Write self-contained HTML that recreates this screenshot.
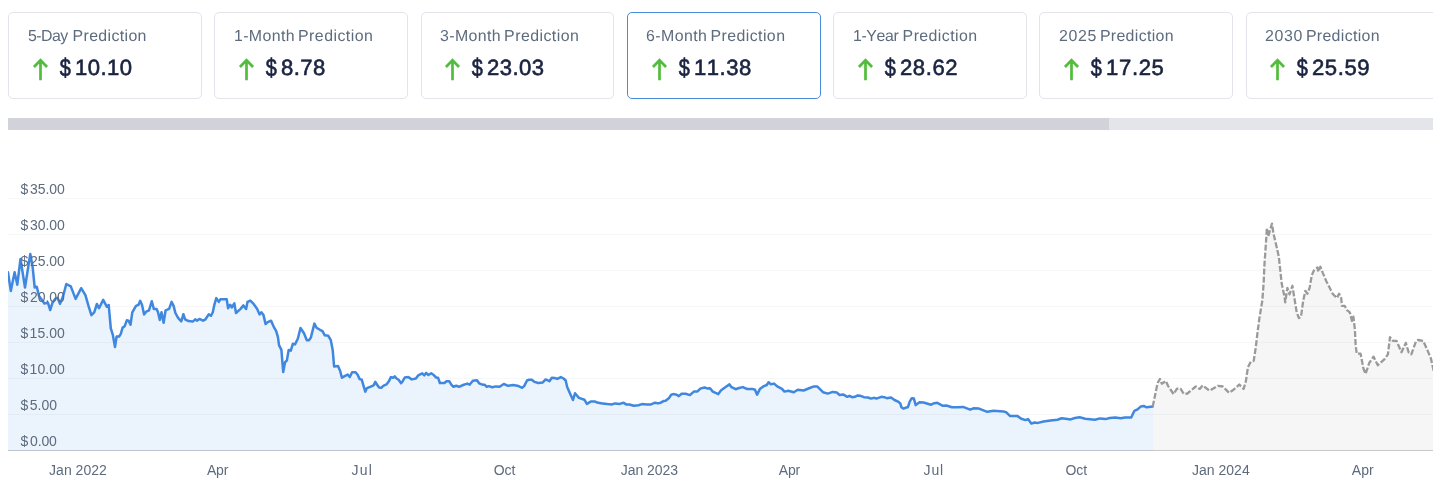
<!DOCTYPE html><html><head><meta charset="utf-8"><title>Price Prediction</title><style>
html,body{margin:0;padding:0;background:#fff;}
body{width:1442px;height:490px;overflow:hidden;position:relative;font-family:"Liberation Sans",sans-serif;}
.cards{position:absolute;left:0;top:0;width:1433px;height:110px;overflow:hidden;}
.card{position:absolute;top:12px;width:193.8px;height:87px;box-sizing:border-box;border:1px solid #e3e4eb;border-radius:5px;background:#fff;}
.card.sel{border-color:#4a8cdc;}
.lab{position:absolute;top:13.399999999999999px;font-size:15.9px;line-height:19px;color:#5d6b7e;white-space:nowrap;font-kerning:none;text-rendering:geometricPrecision;transform:translateY(0.75px) scale(1.0002);transform-origin:0 0;}
.lab span{position:absolute;left:0;top:0;}
.arr{position:absolute;top:43px;width:18px;height:26px;}
.price{position:absolute;top:41.0px;font-size:22.1px;line-height:28px;color:#1a2340;-webkit-text-stroke:0.6px #1a2340;white-space:nowrap;font-kerning:none;text-rendering:geometricPrecision;}
.price span{display:inline-block;transform:translateY(0.45px) scale(1.0002);}
.price i{font-style:normal;letter-spacing:0;display:inline-block;}
.price i b{font-weight:normal;display:inline-block;transform:translate(0.2px,0px) scale(0.9,1.12);}
.track{position:absolute;left:8px;top:118px;width:1425px;height:12px;background:#e4e5ea;}
.thumb{position:absolute;left:0;top:0;width:1101px;height:12px;background:#d2d3da;}
svg.chart{position:absolute;left:0;top:0;}
svg.chart text{font-family:"Liberation Sans",sans-serif;font-size:14px;fill:#5d6b7e;font-kerning:none;}
</style></head><body>
<div class="cards">
<div class="card" style="left:8.00px">
<div class="lab" style="left:18.98px"><span style="letter-spacing:-0.559px">5-Day</span> <span style="left:44.57px;letter-spacing:0.356px">Prediction</span></div>
<svg class="arr" style="left:22.00px" viewBox="0 0 18 26"><path d="M9.5 24.2V3.8M2.95 11L9.5 4.3l6.55 6.7" fill="none" stroke="#52bd3c" stroke-width="2.7" stroke-linecap="butt" stroke-linejoin="miter"/></svg>
<div class="price" style="left:50.39px;letter-spacing:0.460px"><i style="width:15.32px"><b>$</b></i><span>10.10</span></div></div>
<div class="card" style="left:214.27px">
<div class="lab" style="left:18.41px"><span style="letter-spacing:0.369px">1-Month</span> <span style="left:64.06px;letter-spacing:0.446px">Prediction</span></div>
<svg class="arr" style="left:21.73px" viewBox="0 0 18 26"><path d="M9.5 24.2V3.8M2.95 11L9.5 4.3l6.55 6.7" fill="none" stroke="#52bd3c" stroke-width="2.7" stroke-linecap="butt" stroke-linejoin="miter"/></svg>
<div class="price" style="left:50.12px;letter-spacing:0.455px"><i style="width:15.91px"><b>$</b></i><span>8.78</span></div></div>
<div class="card" style="left:420.54px">
<div class="lab" style="left:18.07px"><span style="letter-spacing:0.380px">3-Month</span> <span style="left:64.12px;letter-spacing:0.446px">Prediction</span></div>
<svg class="arr" style="left:21.46px" viewBox="0 0 18 26"><path d="M9.5 24.2V3.8M2.95 11L9.5 4.3l6.55 6.7" fill="none" stroke="#52bd3c" stroke-width="2.7" stroke-linecap="butt" stroke-linejoin="miter"/></svg>
<div class="price" style="left:49.85px;letter-spacing:0.467px"><i style="width:15.80px"><b>$</b></i><span>23.03</span></div></div>
<div class="card sel" style="left:626.81px">
<div class="lab" style="left:18.44px"><span style="letter-spacing:0.440px">6-Month</span> <span style="left:64.48px;letter-spacing:0.423px">Prediction</span></div>
<svg class="arr" style="left:22.19px" viewBox="0 0 18 26"><path d="M9.5 24.2V3.8M2.95 11L9.5 4.3l6.55 6.7" fill="none" stroke="#52bd3c" stroke-width="2.7" stroke-linecap="butt" stroke-linejoin="miter"/></svg>
<div class="price" style="left:50.58px;letter-spacing:0.476px"><i style="width:15.32px"><b>$</b></i><span>11.38</span></div></div>
<div class="card" style="left:833.08px">
<div class="lab" style="left:18.50px"><span style="letter-spacing:-0.394px">1-Year</span> <span style="left:49.61px;letter-spacing:0.418px">Prediction</span></div>
<svg class="arr" style="left:21.92px" viewBox="0 0 18 26"><path d="M9.5 24.2V3.8M2.95 11L9.5 4.3l6.55 6.7" fill="none" stroke="#52bd3c" stroke-width="2.7" stroke-linecap="butt" stroke-linejoin="miter"/></svg>
<div class="price" style="left:50.31px;letter-spacing:0.564px"><i style="width:15.80px"><b>$</b></i><span>28.62</span></div></div>
<div class="card" style="left:1039.35px">
<div class="lab" style="left:18.25px"><span style="letter-spacing:0.661px">2025</span> <span style="left:40.88px;letter-spacing:0.329px">Prediction</span></div>
<svg class="arr" style="left:21.65px" viewBox="0 0 18 26"><path d="M9.5 24.2V3.8M2.95 11L9.5 4.3l6.55 6.7" fill="none" stroke="#52bd3c" stroke-width="2.7" stroke-linecap="butt" stroke-linejoin="miter"/></svg>
<div class="price" style="left:50.04px;letter-spacing:0.652px"><i style="width:15.32px"><b>$</b></i><span>17.25</span></div></div>
<div class="card" style="left:1245.62px">
<div class="lab" style="left:17.98px"><span style="letter-spacing:0.675px">2030</span> <span style="left:40.88px;letter-spacing:0.329px">Prediction</span></div>
<svg class="arr" style="left:21.38px" viewBox="0 0 18 26"><path d="M9.5 24.2V3.8M2.95 11L9.5 4.3l6.55 6.7" fill="none" stroke="#52bd3c" stroke-width="2.7" stroke-linecap="butt" stroke-linejoin="miter"/></svg>
<div class="price" style="left:49.77px;letter-spacing:0.561px"><i style="width:15.80px"><b>$</b></i><span>25.59</span></div></div>
</div>
<div class="track"><div class="thumb"></div></div>
<svg class="chart" width="1442" height="490" viewBox="0 0 1442 490">
<defs><clipPath id="cp"><rect x="8" y="150" width="1425" height="301"/></clipPath></defs>
<g clip-path="url(#cp)">
<rect x="8" y="198" width="1425" height="1" fill="#0a1430" fill-opacity="0.034"/>
<rect x="8" y="234" width="1425" height="1" fill="#0a1430" fill-opacity="0.034"/>
<rect x="8" y="270" width="1425" height="1" fill="#0a1430" fill-opacity="0.034"/>
<rect x="8" y="306" width="1425" height="1" fill="#0a1430" fill-opacity="0.034"/>
<rect x="8" y="342" width="1425" height="1" fill="#0a1430" fill-opacity="0.034"/>
<rect x="8" y="378" width="1425" height="1" fill="#0a1430" fill-opacity="0.034"/>
<rect x="8" y="414" width="1425" height="1" fill="#0a1430" fill-opacity="0.034"/>
<path d="M8.0,272.2 L10.8,290.9 L14.6,272.2 L17.3,284.7 L20.5,259.0 L25.0,287.5 L30.3,253.9 L32.6,266.7 L34.7,287.5 L36.8,286.8 L38.9,295.8 L44.4,303.4 L47.9,302.7 L50.2,310.0 L52.5,302.7 L55.5,298.6 L57.6,297.9 L60.0,303.9 L63.2,295.8 L66.3,284.0 L70.8,286.4 L75.6,298.9 L81.2,288.2 L85.4,295.1 L88.8,306.9 L91.4,315.1 L94.2,312.3 L96.9,304.0 L99.0,308.2 L103.2,299.9 L106.9,306.8 L108.7,305.0 L110.8,328.3 L112.9,335.2 L115.0,347.0 L116.6,336.6 L119.1,336.6 L120.8,333.9 L122.6,327.6 L124.7,326.2 L126.8,320.3 L128.6,320.7 L130.5,324.8 L132.3,312.3 L135.8,306.1 L138.6,304.7 L140.2,300.8 L142.0,304.7 L144.1,314.4 L146.2,311.7 L149.0,310.3 L151.8,301.2 L153.8,308.9 L156.6,308.9 L158.0,312.3 L159.8,320.0 L161.5,312.3 L163.6,322.8 L165.6,310.3 L169.1,308.9 L171.6,301.9 L173.7,306.1 L175.4,313.0 L178.1,317.9 L181.3,321.4 L183.4,314.2 L185.1,319.3 L188.5,321.1 L192.7,321.6 L195.5,319.3 L196.9,320.7 L199.4,318.9 L203.1,320.7 L205.5,319.3 L208.7,314.4 L211.0,315.8 L212.8,312.3 L214.2,305.4 L216.3,298.1 L218.8,301.9 L220.5,299.2 L226.7,299.2 L228.1,308.2 L230.2,304.7 L231.8,307.5 L234.3,303.3 L236.0,313.0 L240.6,308.9 L243.4,305.4 L246.1,308.9 L247.5,301.9 L250.3,300.6 L253.1,303.3 L257.2,308.9 L259.6,314.4 L261.4,312.3 L263.5,315.1 L265.6,324.1 L267.7,322.1 L271.1,320.7 L273.5,326.3 L276.2,331.2 L278.0,337.4 L279.0,345.1 L281.4,349.9 L283.2,372.1 L285.0,362.4 L286.9,360.3 L288.7,349.9 L290.8,350.6 L292.9,343.7 L295.0,344.4 L297.8,338.8 L300.5,328.0 L304.0,333.3 L306.8,340.2 L308.9,340.2 L310.9,337.4 L314.4,323.6 L316.5,327.7 L320.0,329.8 L322.5,331.2 L324.8,335.3 L328.3,335.8 L330.8,340.2 L332.7,349.9 L334.1,366.6 L338.0,365.9 L340.1,370.7 L341.9,377.7 L345.6,375.6 L347.7,374.6 L349.8,377.0 L352.1,372.2 L355.6,372.2 L357.6,374.7 L359.7,379.1 L361.8,379.8 L363.6,386.1 L365.3,391.6 L366.9,388.2 L370.1,386.8 L373.6,385.4 L375.3,381.9 L377.1,384.7 L379.1,387.5 L381.2,387.8 L383.3,385.8 L386.4,384.4 L388.9,381.2 L390.9,377.1 L393.0,377.8 L394.7,376.4 L396.5,378.5 L398.6,379.8 L401.1,383.3 L402.7,381.2 L404.8,377.5 L408.3,377.1 L411.8,379.4 L415.9,378.5 L418.3,375.3 L422.2,373.3 L424.3,375.3 L426.1,372.9 L428.4,375.0 L431.2,373.3 L433.3,374.7 L436.1,377.5 L438.1,377.8 L439.9,383.0 L444.4,383.0 L446.5,381.2 L449.2,381.2 L451.3,384.7 L453.4,386.8 L456.2,385.8 L459.0,386.8 L463.1,385.0 L467.3,383.6 L469.6,384.7 L472.8,380.8 L477.0,380.3 L479.1,383.3 L482.5,384.7 L484.6,384.7 L486.7,386.8 L488.8,386.1 L492.3,387.2 L495.7,386.4 L499.6,386.8 L503.8,384.0 L508.2,385.8 L513.1,385.0 L518.6,386.1 L522.1,387.8 L524.2,386.1 L527.0,380.5 L529.0,379.8 L531.8,379.8 L534.6,381.9 L538.1,383.0 L542.8,382.4 L545.6,379.4 L549.4,381.2 L551.8,377.8 L554.6,378.0 L557.3,378.9 L560.8,377.1 L563.6,378.5 L565.7,380.5 L567.1,386.8 L569.8,393.0 L573.0,400.0 L575.0,393.3 L578.9,397.9 L584.4,399.7 L586.9,403.9 L590.7,401.6 L594.8,401.4 L596.9,402.5 L602.5,403.4 L607.3,404.1 L612.2,404.4 L614.9,403.4 L619.8,403.9 L623.6,402.7 L626.1,404.4 L629.5,404.5 L633.7,405.8 L638.5,405.2 L642.0,404.1 L646.9,404.4 L651.0,404.4 L655.2,402.7 L658.0,403.4 L660.7,402.7 L663.5,401.1 L665.6,400.7 L669.1,397.9 L671.2,394.7 L673.2,394.1 L676.7,394.7 L678.8,396.1 L681.6,393.7 L685.7,393.7 L689.9,395.1 L694.1,391.4 L697.5,391.4 L700.3,388.6 L704.5,387.5 L707.9,388.6 L710.0,388.2 L712.8,391.6 L718.3,394.1 L721.1,390.2 L726.0,386.8 L729.5,384.4 L731.5,387.2 L735.6,389.2 L739.0,388.0 L742.8,387.1 L747.3,389.1 L752.2,388.9 L755.0,389.8 L757.1,394.7 L759.8,389.1 L763.3,386.4 L766.8,385.0 L768.6,382.2 L770.9,384.3 L774.1,383.6 L777.2,386.4 L782.0,388.9 L784.4,391.6 L788.3,390.8 L793.8,392.2 L797.7,389.8 L803.6,390.5 L808.4,388.5 L813.3,386.6 L817.4,386.6 L823.0,392.2 L827.8,393.6 L832.7,391.9 L836.9,392.6 L839.6,395.0 L843.1,394.4 L847.3,396.8 L849.4,395.8 L852.1,397.2 L854.9,396.8 L857.7,395.4 L860.5,395.8 L863.9,397.2 L868.1,397.5 L870.9,398.6 L874.3,397.8 L876.4,398.6 L881.3,396.8 L884.1,397.2 L886.8,398.2 L891.0,397.5 L894.5,400.0 L898.6,401.9 L900.4,403.7 L901.4,407.2 L903.5,408.6 L906.3,407.5 L907.9,407.2 L909.7,401.6 L911.8,398.2 L913.9,398.6 L915.7,405.1 L919.5,402.3 L923.5,402.5 L931.1,404.8 L933.2,403.5 L937.3,402.8 L942.9,405.8 L946.4,405.5 L951.9,407.2 L957.5,407.2 L963.0,406.9 L970.2,409.7 L973.4,408.3 L979.0,408.6 L987.3,411.8 L993.6,410.8 L1003.3,411.4 L1006.1,412.2 L1009.9,415.9 L1017.2,415.9 L1021.3,418.7 L1025.5,420.1 L1028.0,419.1 L1031.3,423.6 L1034.5,422.5 L1038.0,422.9 L1043.5,421.5 L1050.5,420.5 L1057.4,419.7 L1061.6,418.3 L1065.7,418.7 L1070.6,419.4 L1074.8,418.0 L1079.6,417.3 L1085.2,418.7 L1094.9,419.7 L1100.0,418.4 L1105.6,419.1 L1109.7,418.0 L1115.3,417.5 L1120.8,418.2 L1125.0,417.5 L1131.2,417.5 L1134.4,410.8 L1137.5,409.4 L1140.9,406.4 L1143.7,405.9 L1146.5,407.3 L1152.7,406.6 L1153,406.6 L1153,451 L8,451 Z" fill="#3f87df" fill-opacity="0.1"/>
<path d="M1153,406.6 L1152.7,406.6 L1157.6,383.0 L1160.0,378.9 L1161.8,383.7 L1165.9,381.0 L1168.0,385.8 L1173.6,394.1 L1177.0,388.6 L1180.5,388.6 L1184.0,394.1 L1187.4,393.5 L1195.8,386.5 L1199.7,388.9 L1202.7,385.5 L1209.6,390.7 L1218.0,385.8 L1222.8,386.5 L1229.1,392.8 L1233.2,390.0 L1239.3,384.5 L1243.6,388.9 L1245.8,381.7 L1247.9,367.3 L1250.8,361.6 L1253.7,360.9 L1255.8,347.2 L1257.3,334.3 L1259.4,318.1 L1262.3,300.8 L1263.7,282.2 L1264.4,265.2 L1265.9,243.7 L1266.9,227.9 L1268.3,236.5 L1270.2,229.4 L1272.0,223.6 L1273.5,233.7 L1275.9,243.7 L1278.8,256.6 L1280.2,269.5 L1281.7,283.6 L1284.5,296.5 L1285.2,302.3 L1287.4,287.9 L1289.5,294.4 L1292.4,285.8 L1294.6,299.4 L1296.7,312.3 L1298.9,318.1 L1301.0,316.6 L1303.2,300.8 L1305.3,290.8 L1307.5,293.7 L1309.6,287.9 L1311.8,275.3 L1314.0,270.3 L1317.5,267.4 L1318.3,271.7 L1320.4,266.7 L1322.6,272.4 L1326.2,281.0 L1328.3,285.0 L1332.6,293.7 L1336.9,298.0 L1339.1,293.7 L1341.2,298.0 L1341.9,305.9 L1344.8,305.9 L1347.0,310.2 L1349.8,312.3 L1352.0,320.9 L1353.4,316.6 L1354.9,329.5 L1355.6,344.4 L1356.7,353.7 L1360.6,353.7 L1363.5,368.8 L1365.6,373.8 L1369.2,363.0 L1373.5,356.6 L1377.8,365.2 L1384.3,359.4 L1387.9,354.4 L1390.0,337.2 L1392.9,340.8 L1396.5,340.8 L1401.5,352.3 L1405.8,342.9 L1408.7,352.3 L1411.3,354.4 L1415.9,341.5 L1418.0,340.0 L1423.1,340.8 L1427.4,350.1 L1431.0,358.7 L1434.0,372.5 L1434.0,451 L1153,451 Z" fill="#000" fill-opacity="0.036"/>
<path d="M8.0,272.2 L10.8,290.9 L14.6,272.2 L17.3,284.7 L20.5,259.0 L25.0,287.5 L30.3,253.9 L32.6,266.7 L34.7,287.5 L36.8,286.8 L38.9,295.8 L44.4,303.4 L47.9,302.7 L50.2,310.0 L52.5,302.7 L55.5,298.6 L57.6,297.9 L60.0,303.9 L63.2,295.8 L66.3,284.0 L70.8,286.4 L75.6,298.9 L81.2,288.2 L85.4,295.1 L88.8,306.9 L91.4,315.1 L94.2,312.3 L96.9,304.0 L99.0,308.2 L103.2,299.9 L106.9,306.8 L108.7,305.0 L110.8,328.3 L112.9,335.2 L115.0,347.0 L116.6,336.6 L119.1,336.6 L120.8,333.9 L122.6,327.6 L124.7,326.2 L126.8,320.3 L128.6,320.7 L130.5,324.8 L132.3,312.3 L135.8,306.1 L138.6,304.7 L140.2,300.8 L142.0,304.7 L144.1,314.4 L146.2,311.7 L149.0,310.3 L151.8,301.2 L153.8,308.9 L156.6,308.9 L158.0,312.3 L159.8,320.0 L161.5,312.3 L163.6,322.8 L165.6,310.3 L169.1,308.9 L171.6,301.9 L173.7,306.1 L175.4,313.0 L178.1,317.9 L181.3,321.4 L183.4,314.2 L185.1,319.3 L188.5,321.1 L192.7,321.6 L195.5,319.3 L196.9,320.7 L199.4,318.9 L203.1,320.7 L205.5,319.3 L208.7,314.4 L211.0,315.8 L212.8,312.3 L214.2,305.4 L216.3,298.1 L218.8,301.9 L220.5,299.2 L226.7,299.2 L228.1,308.2 L230.2,304.7 L231.8,307.5 L234.3,303.3 L236.0,313.0 L240.6,308.9 L243.4,305.4 L246.1,308.9 L247.5,301.9 L250.3,300.6 L253.1,303.3 L257.2,308.9 L259.6,314.4 L261.4,312.3 L263.5,315.1 L265.6,324.1 L267.7,322.1 L271.1,320.7 L273.5,326.3 L276.2,331.2 L278.0,337.4 L279.0,345.1 L281.4,349.9 L283.2,372.1 L285.0,362.4 L286.9,360.3 L288.7,349.9 L290.8,350.6 L292.9,343.7 L295.0,344.4 L297.8,338.8 L300.5,328.0 L304.0,333.3 L306.8,340.2 L308.9,340.2 L310.9,337.4 L314.4,323.6 L316.5,327.7 L320.0,329.8 L322.5,331.2 L324.8,335.3 L328.3,335.8 L330.8,340.2 L332.7,349.9 L334.1,366.6 L338.0,365.9 L340.1,370.7 L341.9,377.7 L345.6,375.6 L347.7,374.6 L349.8,377.0 L352.1,372.2 L355.6,372.2 L357.6,374.7 L359.7,379.1 L361.8,379.8 L363.6,386.1 L365.3,391.6 L366.9,388.2 L370.1,386.8 L373.6,385.4 L375.3,381.9 L377.1,384.7 L379.1,387.5 L381.2,387.8 L383.3,385.8 L386.4,384.4 L388.9,381.2 L390.9,377.1 L393.0,377.8 L394.7,376.4 L396.5,378.5 L398.6,379.8 L401.1,383.3 L402.7,381.2 L404.8,377.5 L408.3,377.1 L411.8,379.4 L415.9,378.5 L418.3,375.3 L422.2,373.3 L424.3,375.3 L426.1,372.9 L428.4,375.0 L431.2,373.3 L433.3,374.7 L436.1,377.5 L438.1,377.8 L439.9,383.0 L444.4,383.0 L446.5,381.2 L449.2,381.2 L451.3,384.7 L453.4,386.8 L456.2,385.8 L459.0,386.8 L463.1,385.0 L467.3,383.6 L469.6,384.7 L472.8,380.8 L477.0,380.3 L479.1,383.3 L482.5,384.7 L484.6,384.7 L486.7,386.8 L488.8,386.1 L492.3,387.2 L495.7,386.4 L499.6,386.8 L503.8,384.0 L508.2,385.8 L513.1,385.0 L518.6,386.1 L522.1,387.8 L524.2,386.1 L527.0,380.5 L529.0,379.8 L531.8,379.8 L534.6,381.9 L538.1,383.0 L542.8,382.4 L545.6,379.4 L549.4,381.2 L551.8,377.8 L554.6,378.0 L557.3,378.9 L560.8,377.1 L563.6,378.5 L565.7,380.5 L567.1,386.8 L569.8,393.0 L573.0,400.0 L575.0,393.3 L578.9,397.9 L584.4,399.7 L586.9,403.9 L590.7,401.6 L594.8,401.4 L596.9,402.5 L602.5,403.4 L607.3,404.1 L612.2,404.4 L614.9,403.4 L619.8,403.9 L623.6,402.7 L626.1,404.4 L629.5,404.5 L633.7,405.8 L638.5,405.2 L642.0,404.1 L646.9,404.4 L651.0,404.4 L655.2,402.7 L658.0,403.4 L660.7,402.7 L663.5,401.1 L665.6,400.7 L669.1,397.9 L671.2,394.7 L673.2,394.1 L676.7,394.7 L678.8,396.1 L681.6,393.7 L685.7,393.7 L689.9,395.1 L694.1,391.4 L697.5,391.4 L700.3,388.6 L704.5,387.5 L707.9,388.6 L710.0,388.2 L712.8,391.6 L718.3,394.1 L721.1,390.2 L726.0,386.8 L729.5,384.4 L731.5,387.2 L735.6,389.2 L739.0,388.0 L742.8,387.1 L747.3,389.1 L752.2,388.9 L755.0,389.8 L757.1,394.7 L759.8,389.1 L763.3,386.4 L766.8,385.0 L768.6,382.2 L770.9,384.3 L774.1,383.6 L777.2,386.4 L782.0,388.9 L784.4,391.6 L788.3,390.8 L793.8,392.2 L797.7,389.8 L803.6,390.5 L808.4,388.5 L813.3,386.6 L817.4,386.6 L823.0,392.2 L827.8,393.6 L832.7,391.9 L836.9,392.6 L839.6,395.0 L843.1,394.4 L847.3,396.8 L849.4,395.8 L852.1,397.2 L854.9,396.8 L857.7,395.4 L860.5,395.8 L863.9,397.2 L868.1,397.5 L870.9,398.6 L874.3,397.8 L876.4,398.6 L881.3,396.8 L884.1,397.2 L886.8,398.2 L891.0,397.5 L894.5,400.0 L898.6,401.9 L900.4,403.7 L901.4,407.2 L903.5,408.6 L906.3,407.5 L907.9,407.2 L909.7,401.6 L911.8,398.2 L913.9,398.6 L915.7,405.1 L919.5,402.3 L923.5,402.5 L931.1,404.8 L933.2,403.5 L937.3,402.8 L942.9,405.8 L946.4,405.5 L951.9,407.2 L957.5,407.2 L963.0,406.9 L970.2,409.7 L973.4,408.3 L979.0,408.6 L987.3,411.8 L993.6,410.8 L1003.3,411.4 L1006.1,412.2 L1009.9,415.9 L1017.2,415.9 L1021.3,418.7 L1025.5,420.1 L1028.0,419.1 L1031.3,423.6 L1034.5,422.5 L1038.0,422.9 L1043.5,421.5 L1050.5,420.5 L1057.4,419.7 L1061.6,418.3 L1065.7,418.7 L1070.6,419.4 L1074.8,418.0 L1079.6,417.3 L1085.2,418.7 L1094.9,419.7 L1100.0,418.4 L1105.6,419.1 L1109.7,418.0 L1115.3,417.5 L1120.8,418.2 L1125.0,417.5 L1131.2,417.5 L1134.4,410.8 L1137.5,409.4 L1140.9,406.4 L1143.7,405.9 L1146.5,407.3 L1152.7,406.6" fill="none" stroke="#3f87df" stroke-width="2.5" stroke-linejoin="round" stroke-linecap="round"/>
<path d="M1152.7,406.6 L1157.6,383.0 L1160.0,378.9 L1161.8,383.7 L1165.9,381.0 L1168.0,385.8 L1173.6,394.1 L1177.0,388.6 L1180.5,388.6 L1184.0,394.1 L1187.4,393.5 L1195.8,386.5 L1199.7,388.9 L1202.7,385.5 L1209.6,390.7 L1218.0,385.8 L1222.8,386.5 L1229.1,392.8 L1233.2,390.0 L1239.3,384.5 L1243.6,388.9 L1245.8,381.7 L1247.9,367.3 L1250.8,361.6 L1253.7,360.9 L1255.8,347.2 L1257.3,334.3 L1259.4,318.1 L1262.3,300.8 L1263.7,282.2 L1264.4,265.2 L1265.9,243.7 L1266.9,227.9 L1268.3,236.5 L1270.2,229.4 L1272.0,223.6 L1273.5,233.7 L1275.9,243.7 L1278.8,256.6 L1280.2,269.5 L1281.7,283.6 L1284.5,296.5 L1285.2,302.3 L1287.4,287.9 L1289.5,294.4 L1292.4,285.8 L1294.6,299.4 L1296.7,312.3 L1298.9,318.1 L1301.0,316.6 L1303.2,300.8 L1305.3,290.8 L1307.5,293.7 L1309.6,287.9 L1311.8,275.3 L1314.0,270.3 L1317.5,267.4 L1318.3,271.7 L1320.4,266.7 L1322.6,272.4 L1326.2,281.0 L1328.3,285.0 L1332.6,293.7 L1336.9,298.0 L1339.1,293.7 L1341.2,298.0 L1341.9,305.9 L1344.8,305.9 L1347.0,310.2 L1349.8,312.3 L1352.0,320.9 L1353.4,316.6 L1354.9,329.5 L1355.6,344.4 L1356.7,353.7 L1360.6,353.7 L1363.5,368.8 L1365.6,373.8 L1369.2,363.0 L1373.5,356.6 L1377.8,365.2 L1384.3,359.4 L1387.9,354.4 L1390.0,337.2 L1392.9,340.8 L1396.5,340.8 L1401.5,352.3 L1405.8,342.9 L1408.7,352.3 L1411.3,354.4 L1415.9,341.5 L1418.0,340.0 L1423.1,340.8 L1427.4,350.1 L1431.0,358.7 L1434.0,372.5" fill="none" stroke="#9a9a9a" stroke-width="2.3" stroke-dasharray="6 2" stroke-linejoin="round"/>
</g>
<rect x="8" y="450" width="1425" height="1" fill="#000" fill-opacity="0.19"/>
<text x="20.41" y="194.0">$<tspan dx="1.69" style="letter-spacing:-0.030px">35.00</tspan></text>
<text x="20.41" y="230.0">$<tspan dx="1.69" style="letter-spacing:-0.030px">30.00</tspan></text>
<text x="20.41" y="266.0">$<tspan dx="1.70" style="letter-spacing:-0.031px">25.00</tspan></text>
<text x="20.41" y="302.0">$<tspan dx="1.70" style="letter-spacing:-0.031px">20.00</tspan></text>
<text x="20.41" y="338.0">$<tspan dx="1.33" style="letter-spacing:0.062px">15.00</tspan></text>
<text x="20.41" y="374.0">$<tspan dx="1.33" style="letter-spacing:0.062px">10.00</tspan></text>
<text x="20.41" y="410.0">$<tspan dx="1.59" style="letter-spacing:-0.043px">5.00</tspan></text>
<text x="20.41" y="446.0">$<tspan dx="1.80" style="letter-spacing:-0.114px">0.00</tspan></text>
<text x="49.08" y="475.4" style="letter-spacing:0.016px">Jan 2022</text>
<text x="206.95" y="475.4" style="letter-spacing:-0.190px">Apr</text>
<text x="351.58" y="475.4" style="letter-spacing:1.159px">Jul</text>
<text x="493.79" y="475.4" style="letter-spacing:-0.090px">Oct</text>
<text x="620.68" y="475.4" style="letter-spacing:-0.028px">Jan 2023</text>
<text x="778.85" y="475.4" style="letter-spacing:-0.190px">Apr</text>
<text x="923.58" y="475.4" style="letter-spacing:0.859px">Jul</text>
<text x="1065.49" y="475.4" style="letter-spacing:-0.090px">Oct</text>
<text x="1191.98" y="475.4" style="letter-spacing:0.013px">Jan 2024</text>
<text x="1351.85" y="475.4" style="letter-spacing:-0.040px">Apr</text>
</svg>
</body></html>
